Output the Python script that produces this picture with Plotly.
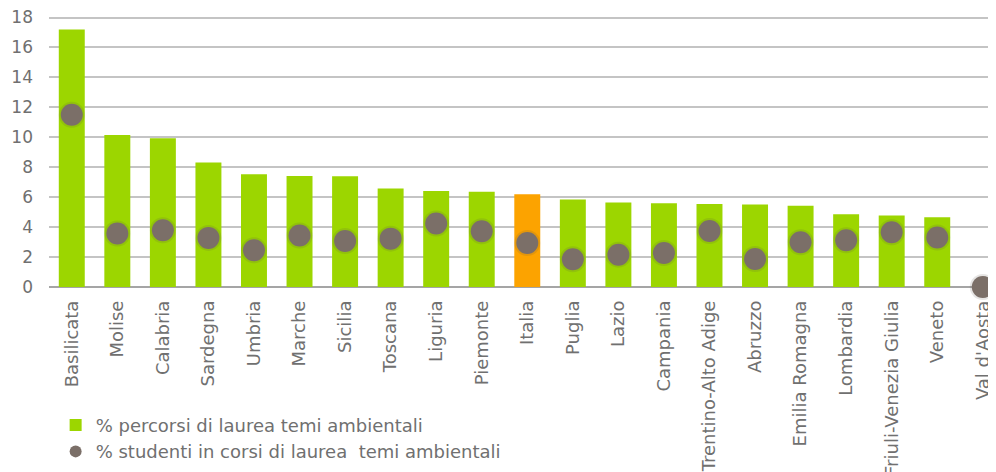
import plotly.graph_objects as go

regions = ["Basilicata", "Molise", "Calabria", "Sardegna", "Umbria", "Marche", "Sicilia",
           "Toscana", "Liguria", "Piemonte", "Italia", "Puglia", "Lazio", "Campania",
           "Trentino-Alto Adige", "Abruzzo", "Emilia Romagna", "Lombardia",
           "Friuli-Venezia Giulia", "Veneto", "Val d'Aosta"]
percorsi = [17.2, 10.16, 9.94, 8.32, 7.53, 7.42, 7.40, 6.58, 6.42, 6.37, 6.2, 5.84, 5.64,
            5.6, 5.55, 5.51, 5.42, 4.86, 4.77, 4.66, 0.0]
studenti = [11.5, 3.57, 3.79, 3.28, 2.45, 3.44, 3.07, 3.23, 4.24, 3.72, 2.94, 1.85, 2.16,
            2.27, 3.74, 1.87, 2.99, 3.12, 3.66, 3.30, 0.0]
y_ticks = [0, 2, 4, 6, 8, 10, 12, 14, 16, 18]

GREEN = "#9cd600"
ORANGE = "#fca300"
DOT = "#7b6f68"
TEXT = "#707070"
FONT = "DejaVu Sans"

bar_colors = [ORANGE if r == "Italia" else GREEN for r in regions]

fig = go.Figure()
fig.add_trace(go.Bar(
    x=regions, y=percorsi, name="% percorsi di laurea temi ambientali",
    marker=dict(color=bar_colors, line=dict(width=0)), width=0.57,
))
# soft shadow behind dots
fig.add_trace(go.Scatter(
    x=regions, y=studenti, mode="markers", showlegend=False, hoverinfo="skip",
    marker=dict(size=26, color="rgba(90,80,75,0.15)", line=dict(width=0)),
    cliponaxis=False,
))
fig.add_trace(go.Scatter(
    x=regions, y=studenti, mode="markers", name="% studenti in corsi di laurea  temi ambientali",
    marker=dict(size=22, color=DOT, line=dict(width=0)), cliponaxis=False,
))

fig.update_layout(
    width=996, height=472,
    margin=dict(l=41, r=8, t=8, b=193, autoexpand=False),
    plot_bgcolor="white", paper_bgcolor="white",
    font=dict(family=FONT, color=TEXT, size=16),
    showlegend=True,
    legend=dict(x=0.007, y=-0.442, xanchor="left", yanchor="top",
                orientation="v", font=dict(size=18, color=TEXT, family=FONT),
                itemsizing="constant", tracegroupgap=0, bgcolor="rgba(0,0,0,0)"),
)
fig.update_xaxes(
    range=[-0.5, 20.29], tickangle=-90, showgrid=False, automargin=False,
    showline=False, zeroline=False, ticks="", ticklabelstandoff=9,
    tickfont=dict(size=18, color=TEXT, family=FONT),
)
fig.update_yaxes(
    range=[0, 18.1], tickvals=y_ticks, showgrid=True, gridcolor="#c4c4c4", gridwidth=1.5,
    zeroline=True, zerolinecolor="#a5a5a5", zerolinewidth=2, automargin=False,
    showline=False, ticks="", ticklabelstandoff=15, ticklabeloverflow="allow",
    tickfont=dict(size=17, color=TEXT, family=FONT),
)

fig.write_html("out.html")
